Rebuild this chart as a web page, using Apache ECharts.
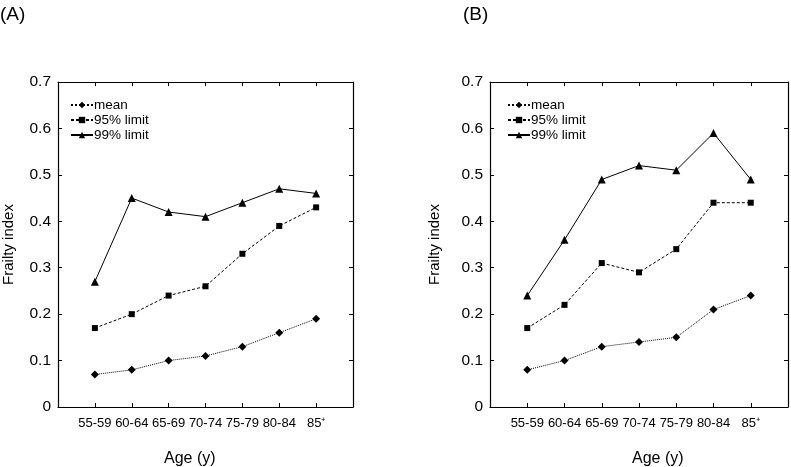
<!DOCTYPE html>
<html>
<head>
<meta charset="utf-8">
<script src="https://cdn.jsdelivr.net/npm/echarts@6/dist/echarts.min.js"></script>
<style>html,body{margin:0;padding:0;background:#fff}#c{width:791px;height:467px}</style>
</head>
<body>
<div id="c"></div>
<script>
var categories = ['55-59','60-64','65-69','70-74','75-79','80-84','85\u207A'];
var yTicks = [0,0.1,0.2,0.3,0.4,0.5,0.6,0.7];
var seriesNames = ['mean','95% limit','99% limit'];
var meanA = [0.07,0.08,0.10,0.11,0.13,0.16,0.19];
var p95A  = [0.17,0.20,0.24,0.26,0.33,0.39,0.43];
var p99A  = [0.27,0.45,0.42,0.41,0.44,0.47,0.46];
var meanB = [0.08,0.10,0.13,0.14,0.15,0.21,0.24];
var p95B  = [0.17,0.22,0.31,0.29,0.34,0.44,0.44];
var p99B  = [0.24,0.36,0.49,0.52,0.51,0.59,0.49];

var FONT = 'Liberation Sans, Arial, sans-serif';
function pts(arr){ return arr.map(function(v,i){ return [i+1, v]; }); }
var symbols = ['diamond','rect','triangle'];
var symSizes = [8,6,8];
var lineTypes = ['dotted',[3,2],'solid'];
var AX = {onZero:false, show:true, lineStyle:{color:'#000',width:1.2}};

function xAxes(gi){
  return [{
    type:'value', gridIndex:gi, min:0, max:8, interval:1, position:'bottom',
    axisLine:AX,
    axisTick:{inside:true,length:4,lineStyle:{color:'#000'}},
    axisLabel:{margin:10,fontSize:13,color:'#000',fontFamily:FONT,
      formatter:function(v){ return categories[v-1] || ''; }},
    splitLine:{show:false}
  },{
    type:'value', gridIndex:gi, min:0, max:8, interval:1, position:'top',
    axisLine:AX,
    axisTick:{inside:true,length:4,lineStyle:{color:'#000'}},
    axisLabel:{show:false}, splitLine:{show:false}
  }];
}
function yAxes(gi, gap){
  return [{
    type:'value', gridIndex:gi, min:0, max:0.7, interval:0.1, position:'left',
    name:'Frailty index', nameLocation:'middle', nameGap:gap,
    nameTextStyle:{fontSize:15,color:'#000',fontFamily:FONT},
    axisLine:AX,
    axisTick:{show:true,inside:true,length:4,lineStyle:{color:'#000'}},
    axisLabel:{margin:7,fontSize:15.5,color:'#000',fontFamily:FONT,
      formatter:function(v){ var r=Math.round(v*10)/10; return yTicks.indexOf(r)>=0 ? String(r) : ''; }},
    splitLine:{show:false}
  },{
    type:'value', gridIndex:gi, min:0, max:0.7, interval:0.1, position:'right',
    axisLine:AX,
    axisTick:{show:true,inside:true,length:4,lineStyle:{color:'#000'}},
    axisLabel:{show:false}, splitLine:{show:false}
  }];
}
var panels = [[meanA,p95A,p99A],[meanB,p95B,p99B]];
var series = [];
panels.forEach(function(p,gi){
  p.forEach(function(arr,k){
    series.push({
      name:seriesNames[k], type:'line', xAxisIndex:gi*2, yAxisIndex:gi*2,
      data:pts(arr), symbol:symbols[k], symbolSize:symSizes[k],
      itemStyle:{color:'#000'},
      lineStyle:{color:'#000',width:1,type:lineTypes[k]},
      animation:false
    });
  });
});
var legendCommon = {
  orient:'vertical', top:93, itemWidth:22, itemHeight:8, itemGap:1,
  textStyle:{fontSize:13.5,color:'#000',fontFamily:FONT,padding:[0,0,0,-4]},
  data:seriesNames, selectedMode:false
};
var option = {
  backgroundColor:'#fff',
  animation:false,
  grid:[
    {left:53, top:82, width:300, height:325},
    {left:490, top:82, width:300, height:325}
  ],
  xAxis: xAxes(0).concat(xAxes(1)),
  yAxis: yAxes(0,42).concat(yAxes(1,48)),
  legend:[
    Object.assign({left:65}, legendCommon),
    Object.assign({left:502}, legendCommon)
  ],
  title:[
    {text:'(A)', left:-5, top:0, textStyle:{fontSize:19,fontWeight:'normal',color:'#000',fontFamily:FONT}},
    {text:'(B)', left:458, top:0, textStyle:{fontSize:19,fontWeight:'normal',color:'#000',fontFamily:FONT}},
    {text:'Age (y)', left:159, top:446, textStyle:{fontSize:16,fontWeight:'normal',color:'#000',fontFamily:FONT}},
    {text:'Age (y)', left:627, top:446, textStyle:{fontSize:16,fontWeight:'normal',color:'#000',fontFamily:FONT}}
  ],
  series:series
};
echarts.init(document.getElementById('c'),null,{renderer:'canvas'}).setOption(option);
</script>
</body>
</html>
